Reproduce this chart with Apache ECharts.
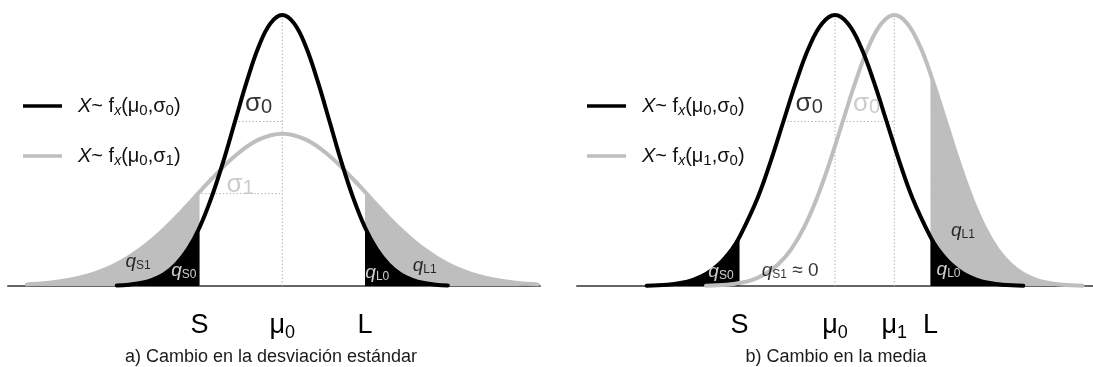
<!DOCTYPE html>
<html>
<head>
<meta charset="utf-8">
<script src="https://cdn.jsdelivr.net/npm/echarts@6/dist/echarts.min.js"></script>
<style>
html,body{margin:0;padding:0;background:#ffffff;}
#chart{width:1093px;height:367px;}
</style>
</head>
<body>
<div id="chart"></div>
<script>
// ---------------- DATA ----------------
// Panel a) : x in units of sigma0 around mu0, y = density relative to the peak of f(mu0,sigma0)
const aBlackX = [-3.5,-3.25,-3,-2.75,-2.5,-2.25,-2,-1.75,-1.5,-1.25,-1,-0.75,-0.5,-0.25,0,0.25,0.5,0.75,1,1.25,1.5,1.75,2,2.25,2.5,2.75,3,3.25,3.5];
const aBlackY = [0.002,0.005,0.011,0.023,0.044,0.080,0.135,0.216,0.325,0.458,0.607,0.755,0.883,0.969,1.000,0.969,0.883,0.755,0.607,0.458,0.325,0.216,0.135,0.080,0.044,0.023,0.011,0.005,0.002];
const aGrayX  = [-5.4,-5,-4.5,-4,-3.5,-3,-2.5,-2,-1.75,-1.5,-1,-0.5,0,0.5,1,1.5,1.75,2,2.5,3,3.5,4,4.5,5,5.4];
const aGrayY  = [0.006,0.011,0.023,0.045,0.081,0.136,0.210,0.299,0.347,0.394,0.480,0.540,0.562,0.540,0.480,0.394,0.347,0.299,0.210,0.136,0.081,0.045,0.023,0.011,0.006];
const aLimits = [-1.75, 1.75];            // S, L
const aMu     = [0];                      // mu0
const aSigma  = [1, 1.78];                // sigma0, sigma1
const aSigmaHeight = [0.607, 0.341];      // curve heights at mu -/+ sigma
const aTickValues = [-1.75, 0, 1.75];
const aTickLabels = [['S',''], ['μ','0'], ['L','']];

// Panel b)
const bBlackX = [-3.65,-3.25,-3,-2.75,-2.5,-2.25,-2,-1.85,-1.5,-1.25,-1,-0.75,-0.5,-0.25,0,0.25,0.5,0.75,1,1.25,1.5,1.85,2,2.25,2.5,2.75,3,3.25,3.65];
const bBlackY = [0.001,0.005,0.011,0.023,0.044,0.080,0.135,0.181,0.325,0.458,0.607,0.755,0.883,0.969,1.000,0.969,0.883,0.755,0.607,0.458,0.325,0.181,0.135,0.080,0.044,0.023,0.011,0.005,0.001];
const bGrayX  = [-2.5,-2.1,-1.85,-1.6,-1.35,-1.1,-0.85,-0.6,-0.35,-0.1,0.15,0.4,0.65,0.9,1.15,1.4,1.65,1.85,2.15,2.4,2.65,2.9,3.15,3.4,3.65,3.9,4.15,4.4,4.8];
const bGrayY  = [0.001,0.005,0.011,0.023,0.044,0.080,0.135,0.216,0.325,0.458,0.607,0.755,0.883,0.969,1.000,0.969,0.883,0.783,0.607,0.458,0.325,0.216,0.135,0.080,0.044,0.023,0.011,0.005,0.001];
const bLimits = [-1.85, 1.85];            // S, L
const bMu     = [0, 1.15];                // mu0, mu1
const bSigma  = [1];                      // sigma0
const bSigmaHeight = [0.607];
const bTickValues = [-1.85, 0, 1.15, 1.85];
const bTickLabels = [['S',''], ['μ','0'], ['μ','1'], ['L','']];

// ---------------- STYLE / LAYOUT ----------------
const FONT = '"Liberation Sans", Arial, Helvetica, sans-serif';
const BLACK = '#000000';
const GRAY = '#bebebe';
const DOT = '#b4b4b4';
const LW = 4;

function pairs(xs, ys) { return xs.map((x, i) => [x, ys[i]]); }
function leftOf(xs, ys, cut) { return pairs(xs, ys).filter(p => p[0] <= cut + 1e-9); }
function rightOf(xs, ys, cut) { return pairs(xs, ys).filter(p => p[0] >= cut - 1e-9); }

function curve(name, gi, data, color, z) {
  return { name, type: 'line', xAxisIndex: gi, yAxisIndex: gi, data, smooth: 0.4,
    symbol: 'none', clip: false, silent: true, z,
    lineStyle: { color, width: LW, cap: 'round', join: 'round' }, itemStyle: { color } };
}
function fill(gi, data, color, z) {
  return { type: 'line', xAxisIndex: gi, yAxisIndex: gi, data, smooth: 0.4,
    symbol: 'none', clip: false, silent: true, z,
    lineStyle: { width: 0, color }, areaStyle: { color, opacity: 1 } };
}
function dotted(gi, data) {
  return { type: 'line', xAxisIndex: gi, yAxisIndex: gi, data, symbol: 'none',
    clip: false, silent: true, z: 1,
    lineStyle: { color: DOT, width: 1, type: [1.5, 2] } };
}

const tickRich = {
  m: { fontSize: 27, lineHeight: 32, verticalAlign: 'middle', fontFamily: FONT, color: '#000' },
  s: { fontSize: 18, lineHeight: 28, verticalAlign: 'bottom', fontFamily: FONT, color: '#000' }
};
function tickFormatter(values, labels) {
  return v => {
    const i = values.findIndex(t => Math.abs(t - v) < 1e-6);
    if (i < 0) return '';
    const [base, sub] = labels[i];
    return sub ? `{m|${base}}{s|${sub}}` : `{m|${base}}`;
  };
}

const noteRich = {
  sig:  { fontSize: 26, lineHeight: 28, verticalAlign: 'middle', fontFamily: FONT },
  sigs: { fontSize: 20, lineHeight: 16, verticalAlign: 'bottom', fontFamily: FONT },
  q:    { fontSize: 19, lineHeight: 20, verticalAlign: 'middle', fontStyle: 'italic', fontFamily: FONT },
  qs:   { fontSize: 12, lineHeight: 9,  verticalAlign: 'bottom', fontFamily: FONT },
  n:    { fontSize: 19, lineHeight: 20, verticalAlign: 'middle', fontFamily: FONT }
};
const noteText = {
  sig0: '{sig|σ}{sigs|0}', sig1: '{sig|σ}{sigs|1}',
  qS0: '{q|q}{qs|S0}', qS1: '{q|q}{qs|S1}', qL0: '{q|q}{qs|L0}', qL1: '{q|q}{qs|L1}',
  qS1z: '{q|q}{qs|S1}{n| ≈ 0}'
};
// annotation anchor points (label centres) in data units of each panel
const aNotes = [
  { key: 'sig0', at: [-aSigma[0] / 2, 0.672], color: BLACK },
  { key: 'sig1', at: [-aSigma[1] / 2, 0.375], color: GRAY },
  { key: 'qS1', at: [-3.05, 0.089], color: BLACK },
  { key: 'qS0', at: [-2.08, 0.055], color: '#ffffff' },
  { key: 'qL0', at: [2.01, 0.048], color: '#ffffff' },
  { key: 'qL1', at: [3.01, 0.074], color: BLACK }
];
const bNotes = [
  { key: 'sig0', at: [-bSigma[0] / 2, 0.672], color: BLACK },
  { key: 'sig0', at: [0.61, 0.672], color: GRAY },
  { key: 'qS0', at: [-2.21, 0.052], color: '#ffffff' },
  { key: 'qS1z', at: [-0.87, 0.055], color: BLACK },
  { key: 'qL1', at: [2.48, 0.203], color: BLACK },
  { key: 'qL0', at: [2.2, 0.059], color: '#ffffff' }
];
function notes(gi, list) {
  return { type: 'scatter', xAxisIndex: gi, yAxisIndex: gi, symbolSize: 0, silent: true, z: 10, clip: false,
    data: list.map(n => ({ value: n.at, name: n.key,
      label: { show: true, color: n.color, position: [0, 0], align: 'center', verticalAlign: 'middle',
               formatter: p => noteText[p.name], rich: noteRich } })) };
}

const legendRich = {
  gap: { width: 11, fontSize: 10 },
  X:  { fontSize: 20, lineHeight: 24, verticalAlign: 'middle', fontStyle: 'italic', fontFamily: FONT, color: '#111' },
  n:  { fontSize: 20, lineHeight: 24, verticalAlign: 'middle', fontFamily: FONT, color: '#111' },
  xs: { fontSize: 14, lineHeight: 18, verticalAlign: 'bottom', fontStyle: 'italic', fontFamily: FONT, color: '#111' },
  s:  { fontSize: 15, lineHeight: 18, verticalAlign: 'bottom', fontFamily: FONT, color: '#111' }
};
const legendText = {
  aBlack: '{gap| }{X|X}{n|~ f}{xs|x}{n|(μ}{s|0}{n|,σ}{s|0}{n|)}',
  aGray:  '{gap| }{X|X}{n|~ f}{xs|x}{n|(μ}{s|0}{n|,σ}{s|1}{n|)}',
  bBlack: '{gap| }{X|X}{n|~ f}{xs|x}{n|(μ}{s|0}{n|,σ}{s|0}{n|)}',
  bGray:  '{gap| }{X|X}{n|~ f}{xs|x}{n|(μ}{s|1}{n|,σ}{s|0}{n|)}'
};
function legend(left, names) {
  return { orient: 'vertical', left, top: 96, padding: 0, itemWidth: 39, itemHeight: 3.5, itemGap: 28,
    icon: 'rect', selectedMode: false, data: names, formatter: n => legendText[n],
    textStyle: { rich: legendRich } };
}

function axisX(gi, min, max, values, labels) {
  return { gridIndex: gi, type: 'value', min, max,
    axisLine: { show: true, onZero: true, lineStyle: { color: '#666666', width: 2 } },
    axisTick: { show: false }, splitLine: { show: false },
    axisLabel: { show: true, customValues: values, margin: 24, formatter: tickFormatter(values, labels), rich: tickRich } };
}

// reference (dotted) segments built from the parameters
const aDots = [
  [[aMu[0], 0], [aMu[0], 1]],
  [[aMu[0] - aSigma[0], aSigmaHeight[0]], [aMu[0], aSigmaHeight[0]]],
  [[aMu[0] - aSigma[1], aSigmaHeight[1]], [aMu[0], aSigmaHeight[1]]]
];
const bDots = [
  [[bMu[0], 0], [bMu[0], 1]],
  [[bMu[1], 0], [bMu[1], 1]],
  [[bMu[0] - bSigma[0], bSigmaHeight[0]], [bMu[0], bSigmaHeight[0]]],
  [[bMu[1] - bSigma[0], bSigmaHeight[0]], [bMu[1], bSigmaHeight[0]]]
];

const series = [
  ...aDots.map(d => dotted(0, d)),
  ...bDots.map(d => dotted(1, d)),
  // panel a fills
  fill(0, leftOf(aGrayX, aGrayY, aLimits[0]), GRAY, 2),
  fill(0, rightOf(aGrayX, aGrayY, aLimits[1]), GRAY, 2),
  fill(0, leftOf(aBlackX, aBlackY, aLimits[0]), BLACK, 3),
  fill(0, rightOf(aBlackX, aBlackY, aLimits[1]), BLACK, 3),
  // panel b fills
  fill(1, leftOf(bGrayX, bGrayY, bLimits[0]), GRAY, 2),
  fill(1, rightOf(bGrayX, bGrayY, bLimits[1]), GRAY, 2),
  fill(1, leftOf(bBlackX, bBlackY, bLimits[0]), BLACK, 3),
  fill(1, rightOf(bBlackX, bBlackY, bLimits[1]), BLACK, 3),
  // curves
  curve('aGray', 0, pairs(aGrayX, aGrayY), GRAY, 4),
  curve('aBlack', 0, pairs(aBlackX, aBlackY), BLACK, 5),
  curve('bGray', 1, pairs(bGrayX, bGrayY), GRAY, 4),
  curve('bBlack', 1, pairs(bBlackX, bBlackY), BLACK, 5),
  notes(0, aNotes),
  notes(1, bNotes)
];

const chart = echarts.init(document.getElementById('chart'), null, { renderer: 'canvas' });
chart.setOption({
  animation: false,
  backgroundColor: '#ffffff',
  textStyle: { fontFamily: FONT },
  grid: [
    { left: 8, top: 15, width: 532, height: 271, containLabel: false, outerBoundsMode: 'none' },
    { left: 577, top: 15, width: 516, height: 271, containLabel: false, outerBoundsMode: 'none' }
  ],
  xAxis: [
    axisX(0, -5.8, 5.45, aTickValues, aTickLabels),
    axisX(1, -5, 5, bTickValues, bTickLabels)
  ],
  yAxis: [
    { gridIndex: 0, type: 'value', min: 0, max: 1, show: false },
    { gridIndex: 1, type: 'value', min: 0, max: 1, show: false }
  ],
  legend: [legend(23, ['aBlack', 'aGray']), legend(587, ['bBlack', 'bGray'])],
  graphic: [
    { type: 'text', x: 271, y: 357, silent: true,
      style: { text: 'a) Cambio en la desviación estándar', font: '18px ' + FONT, fill: '#1a1a1a', textAlign: 'center', textVerticalAlign: 'middle' } },
    { type: 'text', x: 836, y: 357, silent: true,
      style: { text: 'b) Cambio en la media', font: '18px ' + FONT, fill: '#1a1a1a', textAlign: 'center', textVerticalAlign: 'middle' } }
  ],
  series
});
</script>
</body>
</html>
